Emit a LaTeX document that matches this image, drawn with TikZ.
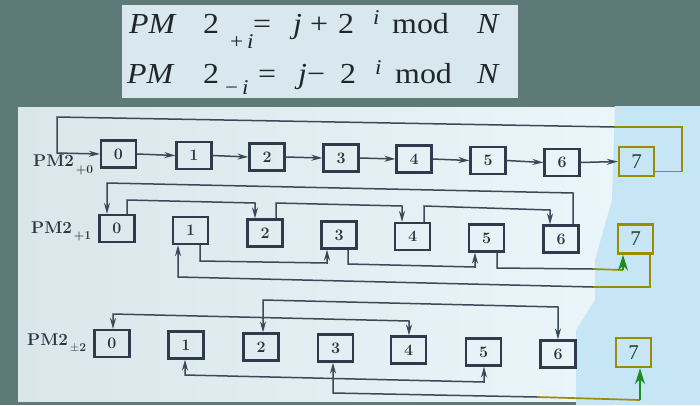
\documentclass[tikz,border=0pt]{standalone}
\usepackage{fontspec}
\usepackage{graphicx}
\newfontfamily\eqfont{Liberation Serif}
\usetikzlibrary{arrows.meta,calc}
\definecolor{bgdark}{HTML}{5E7A77}
\definecolor{eqbg}{HTML}{D8E8EE}
\definecolor{paneL}{HTML}{D9E7EA}
\definecolor{paneR}{HTML}{EAF6F9}
\definecolor{bluep}{HTML}{C7E6F5}
\definecolor{linec}{HTML}{3B4858}
\definecolor{boxc}{HTML}{2E3B4C}
\definecolor{txtc}{HTML}{2A3442}
\definecolor{eqtxt}{HTML}{1F262C}
\definecolor{olivec}{HTML}{9A8E00}
\definecolor{greenc}{HTML}{1E8C1E}
\definecolor{sevenc}{HTML}{24402A}
\definecolor{orangec}{HTML}{A0643E}
\newcommand\sxx[1]{\scalebox{1.1}[1]{#1}}
\tikzset{
  pbox/.style={draw=boxc, line width=2.2pt, minimum width=35pt, minimum height=27pt,
    inner sep=0pt, text=txtc, font=\fontsize{16}{16}\selectfont\bfseries},
  sevenbox/.style={draw=olivec, line width=2.4pt, minimum width=35pt, minimum height=29pt,
    inner sep=0pt, text=sevenc, font=\eqfont\fontsize{21}{21}\selectfont},
  conn/.style={draw=linec, line width=1.5pt},
  arr/.style={conn, -{Stealth[length=11pt,width=6pt]}},
  tailarr/.style={conn, {Stealth[length=11pt,width=6pt]}-},
  botharr/.style={conn, {Stealth[length=11pt,width=6pt]}-{Stealth[length=11pt,width=6pt]}},
  olv/.style={draw=olivec, line width=1.7pt},
  garr/.style={draw=greenc, line width=2pt, -{Stealth[length=16pt,width=10pt]}},
  rowlab/.style={anchor=base west, inner sep=0pt, text=txtc, font=\fontsize{17}{17}\selectfont\bfseries},
  eqline/.style={anchor=base west, inner sep=0pt, text=eqtxt, font=\eqfont\fontsize{29}{29}\selectfont}
}
\begin{document}
\begin{tikzpicture}[x=1pt,y=-1pt]
\useasboundingbox (0,0) rectangle (700,405);
% backgrounds
\fill[bgdark] (0,0) rectangle (700,405);
\fill[eqbg] (122,5) rectangle (518,98);
\shade[left color=paneL, right color=paneR] (18,107) rectangle (615,401);
\fill[bluep] (615,106) -- (700,106) -- (700,405) -- (576,405) -- (576,330) -- (595,300)
  -- (595,260) -- (612,200) -- cycle;
\draw[orangec, line width=1.5pt] (615,105.5) -- (700,105.5);

% equations
\node[eqline] (eq1) at (129,33) {%
\makebox[74pt][l]{\sxx{\itshape PM}}%
\makebox[27pt][l]{\sxx{2}}%
\makebox[23pt][l]{\raisebox{-15pt}{\fontsize{21}{21}\selectfont\sxx{+\,\itshape i}}}%
\makebox[40pt][l]{\sxx{=}}%
\makebox[17pt][l]{\sxx{\itshape j}}%
\makebox[28pt][l]{\sxx{+}}%
\makebox[35pt][l]{\sxx{2}}%
\makebox[19pt][l]{\raisebox{9pt}{\fontsize{21}{21}\selectfont\sxx{\itshape i}}}%
\makebox[85pt][l]{\sxx{mod}}%
\sxx{\itshape N}};
\node[eqline] (eq2) at (127,83) {%
\makebox[76pt][l]{\sxx{\itshape PM}}%
\makebox[22pt][l]{\sxx{2}}%
\makebox[33pt][l]{\raisebox{-11pt}{\fontsize{21}{21}\selectfont\sxx{−\,\itshape i}}}%
\makebox[40pt][l]{\sxx{=}}%
\makebox[9pt][l]{\sxx{\itshape j}}%
\makebox[33pt][l]{\sxx{−}}%
\makebox[35pt][l]{\sxx{2}}%
\makebox[20pt][l]{\raisebox{9pt}{\fontsize{21}{21}\selectfont\sxx{\itshape i}}}%
\makebox[82pt][l]{\sxx{mod}}%
\sxx{\itshape N}};

% row labels
\node[rowlab] (l0) at (33,166) {PM2\raisebox{-7pt}{\fontsize{12}{12}\selectfont\,+0}};
\node[rowlab] (l1) at (31,233) {PM2\raisebox{-6pt}{\fontsize{12}{12}\selectfont\,+1}};
\node[rowlab] (l2) at (27,345) {PM2\raisebox{-6pt}{\fontsize{12}{12}\selectfont\,$\pm$2}};

% row 1
\node[pbox] (a0) at (118.5,154) {0};
\node[pbox] (a1) at (194,155.5) {1};
\node[pbox] (a2) at (267,157) {2};
\node[pbox] (a3) at (341,158) {3};
\node[pbox] (a4) at (414,159) {4};
\node[pbox] (a5) at (488,160.5) {5};
\node[pbox] (a6) at (562,162.5) {6};
\node[sevenbox] (a7) at (636.5,161.5) {7};
\foreach \i/\j in {0/1,1/2,2/3,3/4,4/5,5/6,6/7}
  \draw[arr] (a\i.east) -- (a\j.west);
\coordinate (fb1) at (682,127);
\coordinate (fb2) at (614,127);
\coordinate (fb3) at (57,117);
\coordinate (fb4) at (57,153);
\draw[olv] ($(a7.east)+(0,10)$) -- (682,171.5) -- (fb1) -- (fb2);
\draw[arr] (fb2) -- (fb3) -- (fb4) -- (a0.west);

% row 2
\node[pbox] (b0) at (117,228.5) {0};
\node[pbox] (b1) at (190.5,230.5) {1};
\node[pbox] (b2) at (265,233) {2};
\node[pbox] (b3) at (339,235) {3};
\node[pbox] (b4) at (412.5,236.5) {4};
\node[pbox] (b5) at (486.5,238) {5};
\node[pbox] (b6) at (561,239) {6};
\node[sevenbox] (b7) at (635.5,239) {7};
\draw[arr] ($(b6.north)+(12,0)$) -- (573,193) -- (107,183) -- ($(b0.north)+(-10,0)$);
\draw[arr] ($(b0.north)+(10,0)$) -- (127,200) -- (255,203) -- ($(b2.north)+(-10,0)$);
\draw[arr] ($(b2.north)+(11,0)$) -- (276,203) -- (402,206) -- ($(b4.north)+(-10.5,0)$);
\draw[arr] ($(b4.north)+(11.5,0)$) -- (424,206) -- (550,210) -- ($(b6.north)+(-11,0)$);
\draw[arr] ($(b1.south)+(9.5,0)$) -- (200,261) -- (327,263) -- ($(b3.south)+(-12,0)$);
\draw[arr] ($(b3.south)+(9,0)$) -- (348,264) -- (475,267) -- ($(b5.south)+(-11.5,0)$);
\coordinate (c57a) at (593,269);
\coordinate (c57b) at (623,270);
\draw[conn] ($(b5.south)+(10.5,0)$) -- (497,268) -- (c57a);
\draw[olv] (c57a) -- (c57b);
\draw[garr] (c57b) -- ($(b7.south)+(-12.5,0)$);
\coordinate (c71a) at (650,287);
\coordinate (c71b) at (593,287);
\draw[olv] ($(b7.south)+(14.5,0)$) -- (c71a) -- (c71b);
\draw[arr] (c71b) -- (178,277) -- ($(b1.south)+(-12.5,0)$);

% row 3
\node[pbox] (c0) at (112,343.5) {0};
\node[pbox] (c1) at (186,345) {1};
\node[pbox] (c2) at (261,347) {2};
\node[pbox] (c3) at (335.5,348) {3};
\node[pbox] (c4) at (408.5,350) {4};
\node[pbox] (c5) at (483.5,352) {5};
\node[pbox] (c6) at (558,354) {6};
\node[sevenbox] (c7) at (633.5,352.5) {7};
\draw[botharr] ($(c2.north)+(2,0)$) -- (263,300) -- (558,307) -- (c6.north);
\draw[botharr] ($(c0.north)+(1,0)$) -- (113,314) -- (409,321) -- ($(c4.north)+(0.5,0)$);
\draw[botharr] ($(c1.south)+(-1,0)$) -- (185,375) -- (484,382) -- ($(c5.south)+(0.5,0)$);
\coordinate (c37a) at (537,397);
\coordinate (c37b) at (640,400);
\draw[tailarr] ($(c3.south)+(-2.5,0)$) -- (333,393) -- (c37a);
\draw[olv] (c37a) -- (c37b);
\draw[garr] (c37b) -- ($(c7.south)+(6.5,0)$);
\end{tikzpicture}
\end{document}
